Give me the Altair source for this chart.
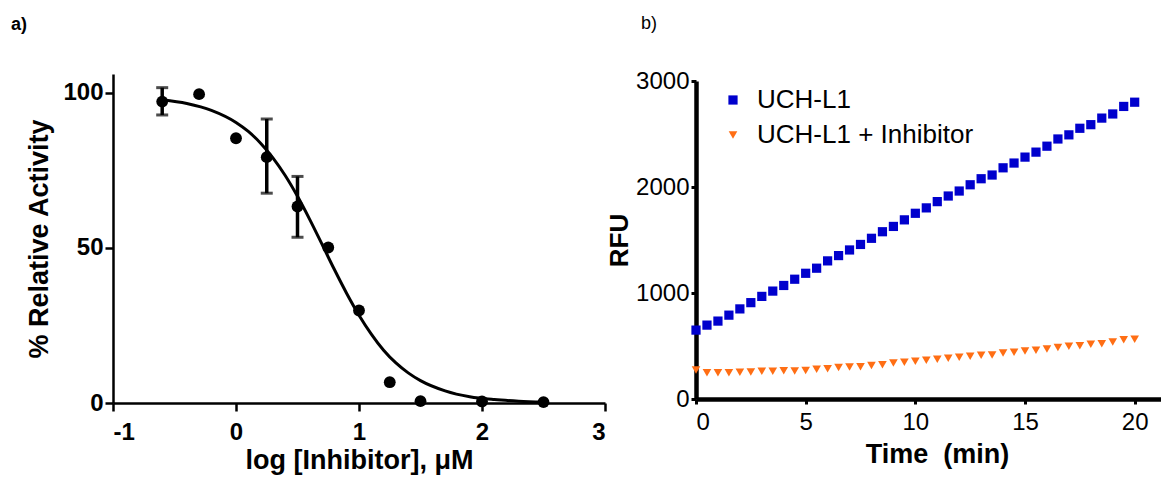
import altair as alt
import pandas as pd

# ---------------- Panel a: dose response ----------------
log_conc = [-0.6, -0.3, 0.0, 0.25, 0.5, 0.75, 1.0, 1.25, 1.5, 2.0, 2.5]
rel_activity = [97.1, 99.5, 85.3, 79.2, 63.3, 50.1, 29.8, 6.7, 0.6, 0.5, 0.3]
err_x = [-0.6, 0.25, 0.5]
err_low = [92.8, 67.6, 53.4]
err_high = [101.6, 91.5, 73.0]
fit_x = [-0.6, -0.4, -0.2, 0.0, 0.1, 0.2, 0.3, 0.4, 0.5, 0.6, 0.7, 0.8, 0.9,
         1.0, 1.1, 1.2, 1.3, 1.4, 1.5, 1.7, 1.9, 2.1, 2.3, 2.5]
fit_y = [97.7, 96.5, 94.3, 90.4, 87.5, 83.7, 79.0, 73.3, 66.6, 59.1, 51.1, 43.0, 35.3,
         28.3, 22.2, 17.0, 12.9, 9.7, 7.2, 3.9, 2.0, 1.1, 0.6, 0.3]

# ---------------- Panel b: kinetics ----------------
time_min = [0, 0.5, 1, 1.5, 2, 2.5, 3, 3.5, 4, 4.5, 5, 5.5, 6, 6.5, 7, 7.5, 8, 8.5, 9, 9.5,
            10, 10.5, 11, 11.5, 12, 12.5, 13, 13.5, 14, 14.5, 15, 15.5, 16, 16.5, 17, 17.5,
            18, 18.5, 19, 19.5, 20]
rfu_uch = [650, 697, 735, 791, 850, 909, 968, 1018, 1071, 1130, 1186, 1234, 1303, 1353,
           1406, 1458, 1516, 1578, 1628, 1690, 1752, 1803, 1862, 1915, 1962, 2021, 2078,
           2113, 2181, 2226, 2282, 2329, 2385, 2453, 2492, 2554, 2588, 2650, 2689, 2760, 2800]
rfu_inh = [274, 248, 248, 248, 252, 255, 261, 261, 267, 264, 270, 280, 286, 296, 302, 305,
           315, 324, 340, 346, 355, 365, 374, 384, 393, 403, 412, 415, 434, 440, 453, 459,
           472, 487, 497, 503, 516, 522, 538, 560, 563]
series_names = ["UCH-L1", "UCH-L1 + Inhibitor"]
series_colors = ["#0000CD", "#FF6E14"]
series_shapes = ["square", "triangle-down"]
series_sizes = [85, 75]

FONT = "Liberation Sans"

pts = pd.DataFrame({"x": log_conc, "y": rel_activity})
errs = pd.DataFrame({"x": err_x, "lo": err_low, "hi": err_high})
fit = pd.DataFrame({"x": fit_x, "y": fit_y})

xa = alt.X("x:Q", scale=alt.Scale(domain=[-1, 3], nice=False),
           axis=alt.Axis(values=[-1, 0, 1, 2, 3], labelExpr="datum.value + ''",
                         title="log [Inhibitor], μM", grid=False,
                         domainColor="black", domainWidth=2.5, tickColor="black", tickWidth=2.5,
                         tickSize=8, labelFont=FONT, labelFontSize=24, labelFontWeight="bold",
                         labelColor="black", labelPadding=9, titleFont=FONT, titleFontSize=27,
                         titleFontWeight="bold", titleColor="black", titlePadding=3))
ya = alt.Y("y:Q", scale=alt.Scale(domain=[0, 106], nice=False),
           axis=alt.Axis(values=[0, 50, 100], format="d", title="% Relative Activity", grid=False,
                         domainColor="black", domainWidth=2.5, tickColor="black", tickWidth=2.5,
                         tickSize=8, labelFont=FONT, labelFontSize=24, labelFontWeight="bold",
                         labelColor="black", labelPadding=2, titleFont=FONT, titleFontSize=27,
                         titleFontWeight="bold", titleColor="black", titlePadding=9))

curve = alt.Chart(fit).mark_line(color="black", strokeWidth=3, interpolate="monotone").encode(x=xa, y=ya)
dots = alt.Chart(pts).mark_circle(color="black", size=140, opacity=1).encode(x="x:Q", y="y:Q")
bars = alt.Chart(errs).mark_rule(color="black", strokeWidth=3.5).encode(x="x:Q", y="lo:Q", y2="hi:Q")
cap_lo = alt.Chart(errs).mark_tick(color="black", thickness=3, size=12, orient="horizontal").encode(x="x:Q", y="lo:Q")
cap_hi = alt.Chart(errs).mark_tick(color="black", thickness=3, size=12, orient="horizontal").encode(x="x:Q", y="hi:Q")

left = alt.layer(curve, bars, cap_lo, cap_hi, dots).properties(
    width=492, height=329,
    title=alt.TitleParams("a)", anchor="start", frame="group", dx=-102, dy=-2, offset=24,
                          baseline="alphabetic", font=FONT, fontSize=18, fontWeight="bold",
                          color="black"))

# right panel
kin = pd.DataFrame({
    "t": time_min + time_min,
    "rfu": rfu_uch + rfu_inh,
    "series": [series_names[0]] * len(time_min) + [series_names[1]] * len(time_min),
})

leg = alt.Legend(orient="none", legendX=607, legendY=13, title=None, labelFont=FONT,
                 labelFontSize=26, labelColor="black", symbolSize=75, labelOffset=11,
                 labelLimit=500, rowPadding=9, symbolStrokeWidth=0)

right = alt.Chart(kin).mark_point(filled=True, opacity=1).encode(
    x=alt.X("t:Q", scale=alt.Scale(domain=[0, 21.2], nice=False),
            axis=alt.Axis(values=[0, 5, 10, 15, 20], format="d", title="Time\u00a0 (min)", grid=False,
                          domainColor="black", domainWidth=4.5, tickColor="black", tickWidth=3,
                          tickSize=5, labelFont=FONT, labelFontSize=24, labelColor="black",
                          labelPadding=6, titleFont=FONT, titleFontSize=27, titleFontWeight="bold",
                          titleColor="black", titlePadding=7, titleX=241)),
    y=alt.Y("rfu:Q", scale=alt.Scale(domain=[0, 3000], range=[325, 7], nice=False),
            axis=alt.Axis(values=[0, 1000, 2000, 3000], format="d", title="RFU", grid=False,
                          domainColor="black", domainWidth=4.5, tickColor="black", tickWidth=3,
                          tickSize=5, labelFont=FONT, labelFontSize=24, labelColor="black",
                          labelPadding=2, titleFont=FONT, titleFontSize=26, titleFontWeight="bold",
                          titleColor="black", titlePadding=3)),
    color=alt.Color("series:N", scale=alt.Scale(domain=series_names, range=series_colors), legend=leg),
    shape=alt.Shape("series:N", scale=alt.Scale(domain=series_names, range=series_shapes), legend=leg),
    size=alt.Size("series:N", scale=alt.Scale(domain=series_names, range=series_sizes), legend=None),
).properties(
    width=465, height=325,
    title=alt.TitleParams("b)", anchor="start", frame="group", dx=-55, offset=22,
                          baseline="alphabetic", font=FONT, fontSize=18, fontWeight="normal",
                          color="black"))

chart = alt.hconcat(left, right, spacing=91, bounds="flush").properties(
    padding={"left": 3, "top": 7, "right": 0, "bottom": 2}
).configure_view(stroke=None)

chart.save("out.html", embed_options={"renderer": "svg", "actions": False})
